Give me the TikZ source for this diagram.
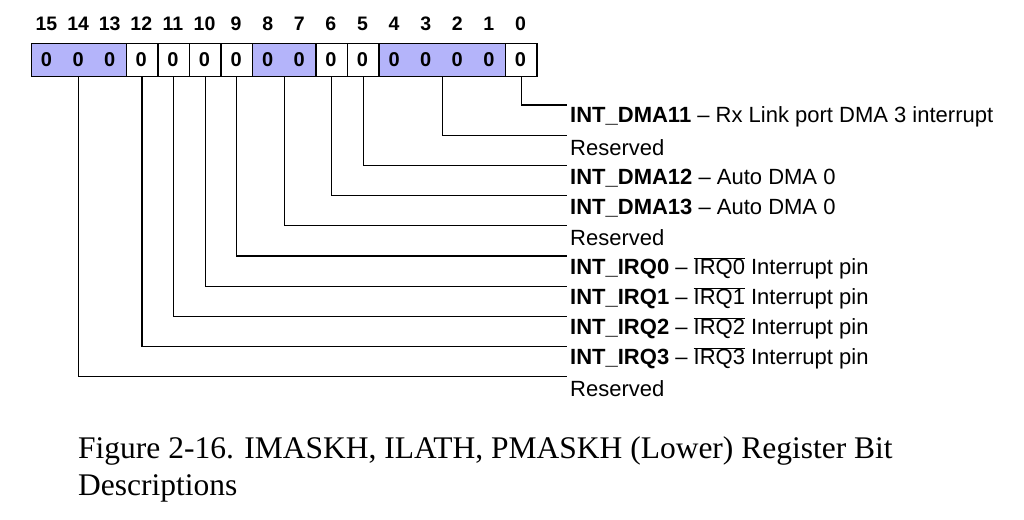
\documentclass[tikz,border=0pt]{standalone}
\usepackage{fontspec}
\setmainfont{Liberation Sans}
\newfontfamily\capfont{Liberation Serif}
\definecolor{grp}{RGB}{180,180,250}
\begin{document}
\begin{tikzpicture}[x=1pt,y=-1pt,
  cell/.style={draw,line width=1.4pt,minimum height=33pt,inner sep=0pt,anchor=north west},
  bitv/.style={font=\fontsize{20}{20}\selectfont\bfseries},
  hdr/.style={font=\fontsize{19.5}{20}\selectfont\bfseries},
  lbl/.style={anchor=west,inner sep=0pt,font=\fontsize{22}{22}\selectfont},
  wire/.style={line width=1.2pt}]
\useasboundingbox (0,0) rectangle (1024,519);
\def\L{30.7}\def\W{31.6}
\node[cell,fill=grp,minimum width=3*\W] (g1513) at (\L,43) {};
\node[cell,minimum width=\W] (c12) at (\L+3*\W,43) {};
\node[cell,minimum width=\W] (c11) at (\L+4*\W,43) {};
\node[cell,minimum width=\W] (c10) at (\L+5*\W,43) {};
\node[cell,minimum width=\W] (c9) at (\L+6*\W,43) {};
\node[cell,fill=grp,minimum width=2*\W] (g87) at (\L+7*\W,43) {};
\node[cell,minimum width=\W] (c6) at (\L+9*\W,43) {};
\node[cell,minimum width=\W] (c5) at (\L+10*\W,43) {};
\node[cell,fill=grp,minimum width=4*\W] (g41) at (\L+11*\W,43) {};
\node[cell,minimum width=\W] (c0) at (\L+15*\W,43) {};
\foreach \i in {0,...,15}{
  \pgfmathsetmacro\cx{\L+(15-\i+0.5)*\W}
  \node[hdr] (h\i) at (\cx,24) {\i};
  \node[bitv] (v\i) at (\cx,59.5) {0};
}
\def\X{570}
\node[lbl] (t0) at (\X,117) {\textbf{INT\_DMA11} -- Rx Link port DMA 3 interrupt};
\node[lbl] (t1) at (\X,147.5) {Reserved};
\node[lbl] (t2) at (\X,178) {\textbf{INT\_DMA12} -- Auto DMA 0};
\node[lbl] (t3) at (\X,208) {\textbf{INT\_DMA13} -- Auto DMA 0};
\node[lbl] (t4) at (\X,238) {Reserved};
\node[lbl] (t5) at (\X,268.5) {\textbf{INT\_IRQ0} -- $\overline{\mbox{IRQ0}}$ Interrupt pin};
\node[lbl] (t6) at (\X,298.5) {\textbf{INT\_IRQ1} -- $\overline{\mbox{IRQ1}}$ Interrupt pin};
\node[lbl] (t7) at (\X,328.5) {\textbf{INT\_IRQ2} -- $\overline{\mbox{IRQ2}}$ Interrupt pin};
\node[lbl] (t8) at (\X,358.5) {\textbf{INT\_IRQ3} -- $\overline{\mbox{IRQ3}}$ Interrupt pin};
\node[lbl] (t9) at (\X,389) {Reserved};
\foreach \k in {0,...,9}{
  \coordinate (e\k) at (567,105+30.2*\k);
}
\draw[wire] (c0.south) |- (e0);
\draw[wire] (g41.south) |- (e1);
\draw[wire] (c5.south) |- (e2);
\draw[wire] (c6.south) |- (e3);
\draw[wire] (g87.south) |- (e4);
\draw[wire] (c9.south) |- (e5);
\draw[wire] (c10.south) |- (e6);
\draw[wire] (c11.south) |- (e7);
\draw[wire] (c12.south) |- (e8);
\draw[wire] (h14.center |- g1513.south) |- (e9);
\node[anchor=north west,align=left,inner sep=0pt,font=\capfont\fontsize{31.5}{37}\selectfont] (cap) at (78,436)
 {Figure 2-16. IMASKH, ILATH, PMASKH (Lower) Register Bit\\Descriptions};
\end{tikzpicture}
\end{document}
